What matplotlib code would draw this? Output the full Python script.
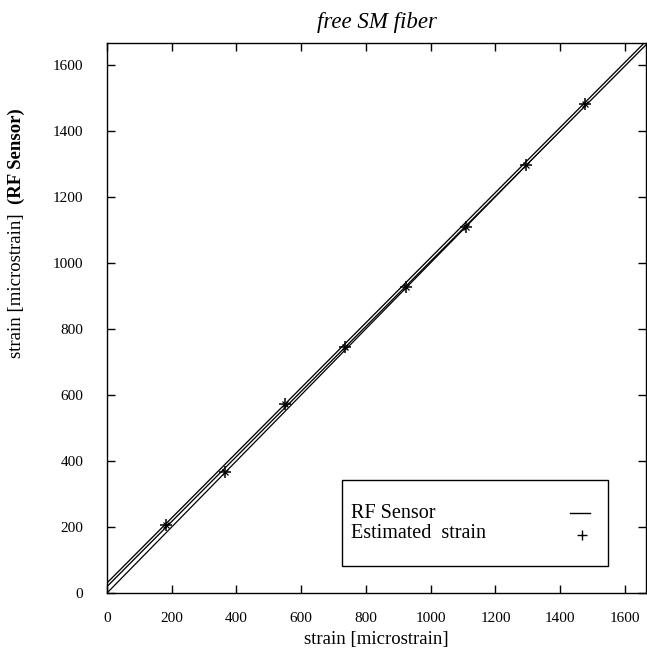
import matplotlib
matplotlib.use("Agg")
import matplotlib.pyplot as plt
from matplotlib.patches import Rectangle

# data
applied = [182, 366, 551, 736, 924, 1109, 1293, 1478]
estimated = [205, 367, 573, 745, 927, 1109, 1297, 1479]
ideal_x = [0, 1665]
ideal_y = [0, 1665]
sensor_x = [0, 1665]
sensor_y = [25, 1665]
ticks = [0, 200, 400, 600, 800, 1000, 1200, 1400, 1600]

plt.rcParams['font.family'] = ['Liberation Serif', 'DejaVu Serif']

fig = plt.figure(figsize=(6.47, 6.56), dpi=100)
ax = fig.add_axes([0.1654, 0.096, 0.833, 0.8384])

ax.plot(ideal_x, ideal_y, color="black", lw=0.9)
# RF sensor line is drawn hollow in the original
ax.plot(sensor_x, sensor_y, color="black", lw=2.8, solid_capstyle="butt")
ax.plot(sensor_x, sensor_y, color="white", lw=0.9, solid_capstyle="butt")
ax.plot(applied, estimated, ls="none", marker="+", ms=8, mew=1.1, color="black")
ax.plot(applied, estimated, ls="none", marker="x", ms=5, mew=0.9, color="black")

ax.set_xlim(0, 1665)
ax.set_ylim(0, 1665)
ax.set_xticks(ticks)
ax.set_yticks(ticks)
ax.tick_params(direction="in", length=6, width=1, top=True, right=True,
               labelsize=11)
ax.tick_params(axis="x", pad=14)
ax.tick_params(axis="y", pad=17)
for s in ax.spines.values():
    s.set_linewidth(1.0)

ax.set_title("free SM fiber", fontstyle="italic", fontsize=16.5, pad=11)
ax.set_xlabel("strain [microstrain]", fontsize=13.5, labelpad=4)

fig.text(0.026, 0.565, "strain [microstrain]", rotation=90, fontsize=13.5,
         ha="center", va="center")
fig.text(0.026, 0.762, "(RF Sensor)", rotation=90, fontsize=13.5,
         fontweight="bold", ha="center", va="center")

# legend box as in the original: labels on the left, symbols on the right
ax.add_patch(Rectangle((0.436, 0.049), 0.4935, 0.1565, transform=ax.transAxes,
                       fill=False, edgecolor="black", lw=1.0))
ax.text(0.4527, 0.1455, "RF Sensor", transform=ax.transAxes, fontsize=14.5,
        va="center", ha="left")
ax.text(0.4527, 0.109, "Estimated  strain", transform=ax.transAxes,
        fontsize=14.5, va="center", ha="left")
ax.plot([0.859, 0.896], [0.1455, 0.1455], transform=ax.transAxes,
        color="black", lw=1.0)
ax.plot([0.881], [0.105], transform=ax.transAxes, marker="+", ms=7,
        mew=1.0, color="black")

fig.savefig("out.png", dpi=100)
